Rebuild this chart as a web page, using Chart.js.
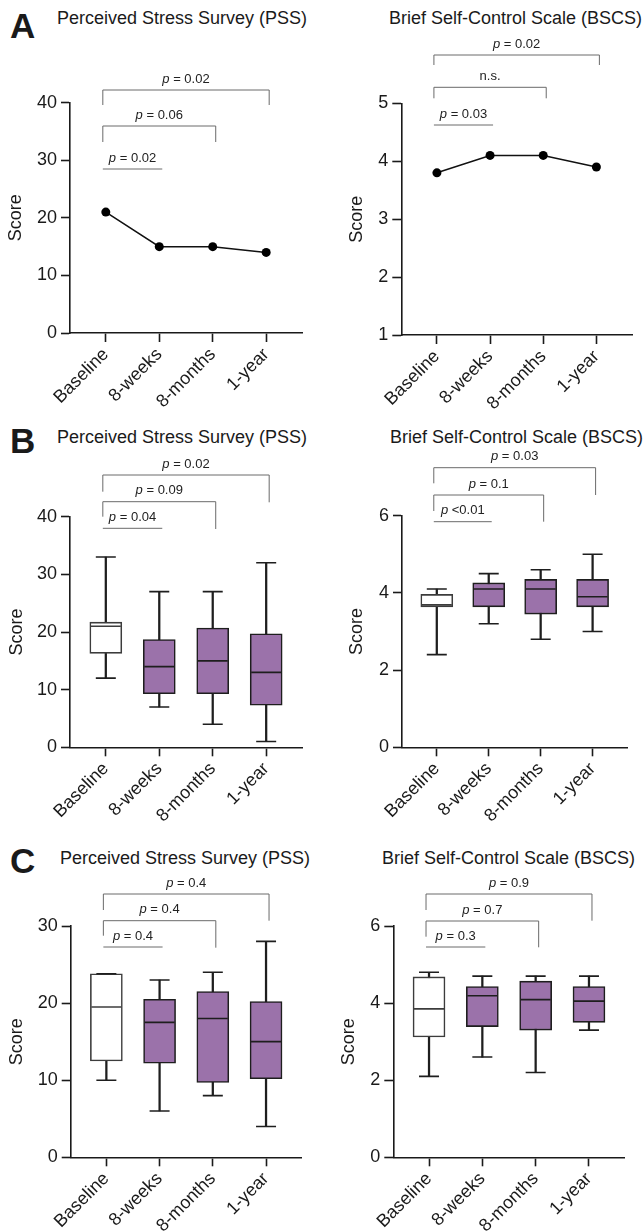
<!DOCTYPE html>
<html lang="en">
<head>
<meta charset="UTF-8" />
<title>PSS / BSCS over time</title>
<script src="https://cdn.jsdelivr.net/npm/chart.js"></script>
<style>
  body { margin: 0; background: #fff; font-family: 'Liberation Sans', Arial, sans-serif; color: #1a1a1a; }
  .fig { position: relative; width: 644px; height: 1232px; overflow: hidden; }
  .fig canvas { position: absolute; }
  .letter { position: absolute; font-size: 35px; font-weight: bold; line-height: 35px; }
  .title { position: absolute; font-size: 18px; line-height: 18px; white-space: nowrap; }
</style>
</head>
<body>
<div class="fig">
  <div class="letter" style="left:10px;top:8px">A</div>
  <div class="title" style="left:57px;top:9px">Perceived Stress Survey (PSS)</div>
  <div class="title" style="left:389px;top:9px">Brief Self-Control Scale (BSCS)</div>
  <div class="letter" style="left:10px;top:423px">B</div>
  <div class="title" style="left:57px;top:428px">Perceived Stress Survey (PSS)</div>
  <div class="title" style="left:390px;top:428px">Brief Self-Control Scale (BSCS)</div>
  <div class="letter" style="left:10px;top:843px">C</div>
  <div class="title" style="left:60px;top:849px">Perceived Stress Survey (PSS)</div>
  <div class="title" style="left:382px;top:849px">Brief Self-Control Scale (BSCS)</div>

  <canvas id="aPss" width="322" height="400" style="left:0;top:30px"></canvas>
  <canvas id="aBscs" width="322" height="400" style="left:322px;top:30px"></canvas>
  <canvas id="bPss" width="322" height="390" style="left:0;top:440px"></canvas>
  <canvas id="bBscs" width="322" height="390" style="left:322px;top:440px"></canvas>
  <canvas id="cPss" width="322" height="372" style="left:0;top:860px"></canvas>
  <canvas id="cBscs" width="322" height="372" style="left:322px;top:860px"></canvas>
</div>

<script>
  // ---- data ----
  const timepoints = ['Baseline', '8-weeks', '8-months', '1-year'];
  const comparisons = [[0, 1], [0, 2], [0, 3]];

  // A: group scores per timepoint
  const aPssScores = [21, 15, 15, 14];
  const aBscsScores = [3.8, 4.1, 4.1, 3.9];
  const aPssP = ['p = 0.02', 'p = 0.06', 'p = 0.02'];
  const aBscsP = ['p = 0.03', 'n.s.', 'p = 0.02'];

  // B and C: [min, q1, median, q3, max] per timepoint
  const bPssStats = [[12, 16.3, 21, 21.7, 33], [7, 9.3, 14, 18.7, 27], [4, 9.3, 15, 20.7, 27], [1, 7.3, 13, 19.7, 32]];
  const bBscsStats = [[2.4, 3.64, 3.69, 3.96, 4.1], [3.2, 3.64, 4.1, 4.26, 4.5], [2.8, 3.45, 4.1, 4.35, 4.6], [3.0, 3.64, 3.9, 4.35, 5.0]];
  const bPssP = ['p = 0.04', 'p = 0.09', 'p = 0.02'];
  const bBscsP = ['p <0.01', 'p = 0.1', 'p = 0.03'];

  const cPssStats = [[10, 12.5, 19.5, 23.8, 23.8], [6, 12.2, 17.5, 20.5, 23], [8, 9.7, 18, 21.5, 24], [4, 10.2, 15, 20.2, 28]];
  const cBscsStats = [[2.1, 3.12, 3.85, 4.68, 4.8], [2.6, 3.39, 4.19, 4.43, 4.7], [2.2, 3.3, 4.09, 4.57, 4.7], [3.3, 3.5, 4.05, 4.43, 4.7]];
  const cPssP = ['p = 0.4', 'p = 0.4', 'p = 0.4'];
  const cBscsP = ['p = 0.3', 'p = 0.7', 'p = 0.9'];

  // ---- style ----
  const FONT = "'Liberation Sans', Arial, sans-serif";
  const INK = '#1a1a1a';
  const PURPLE = '#9b72aa';
  Chart.defaults.font.family = FONT;
  Chart.defaults.color = INK;

  function drawPLabel(ctx, text, cx, cy) {
    ctx.textBaseline = 'middle';
    ctx.textAlign = 'left';
    ctx.fillStyle = '#222';
    const italic = text.startsWith('p');
    const head = italic ? 'p' : '';
    const rest = italic ? text.slice(1) : text;
    ctx.font = 'italic 13px ' + FONT;
    const w1 = ctx.measureText(head).width;
    ctx.font = '13px ' + FONT;
    const w2 = ctx.measureText(rest).width;
    let x = cx - (w1 + w2) / 2;
    if (head) {
      ctx.font = 'italic 13px ' + FONT;
      ctx.fillText(head, x, cy);
      x += w1;
    }
    ctx.font = '13px ' + FONT;
    ctx.fillText(rest, x, cy);
  }

  // brackets sit above the plot; offsets are px from chartArea.top
  function bracketPlugin(labels, layout) {
    return {
      id: 'brackets',
      afterDraw(chart) {
        const { ctx, chartArea, scales: { x } } = chart;
        ctx.save();
        comparisons.forEach(([a, b], k) => {
          const lay = layout[k];
          const x1 = x.getPixelForValue(a) - 3;
          const x2 = x.getPixelForValue(b) + 3;
          const y = chartArea.top + lay.y;
          ctx.strokeStyle = '#6a6a6a';
          ctx.lineWidth = 1;
          ctx.beginPath();
          ctx.moveTo(x1, y + lay.l);
          ctx.lineTo(x1, y);
          ctx.lineTo(x2, y);
          ctx.lineTo(x2, y + lay.r);
          ctx.stroke();
          drawPLabel(ctx, labels[k], (x1 + x2) / 2, y - 11);
        });
        ctx.restore();
      }
    };
  }

  function scales(p, yMin, yMax, yStep) {
    return {
      x: {
        type: 'linear', min: -0.67, max: 3.67, offset: false,
        afterFit: s => { s.height = p.xh; },
        border: { display: true, color: INK, width: 1.6 },
        grid: { display: true, offset: false, drawOnChartArea: false, tickLength: 9, tickWidth: 1.6, tickColor: INK },
        ticks: {
          stepSize: 1, includeBounds: false, autoSkip: false,
          minRotation: 45, maxRotation: 45, padding: 2,
          font: { size: 18 }, color: INK,
          callback: v => timepoints[v] ?? ''
        }
      },
      y: {
        min: yMin, max: yMax,
        afterFit: s => { s.width = p.yw; },
        border: { display: true, color: INK, width: 1.6 },
        grid: { display: true, drawOnChartArea: false, tickLength: 9, tickWidth: 1.6, tickColor: INK },
        ticks: { stepSize: yStep, padding: 4, font: { size: 18 }, color: INK },
        title: { display: true, text: 'Score', font: { size: 18 }, color: INK, padding: { top: p.tp } }
      }
    };
  }

  function baseOptions(p, yMin, yMax, yStep) {
    return {
      responsive: false,
      devicePixelRatio: 1,
      animation: false,
      events: [],
      layout: { padding: { top: p.pt, right: p.pr, left: 0, bottom: 0 } },
      plugins: { legend: { display: false }, tooltip: { enabled: false } },
      scales: scales(p, yMin, yMax, yStep)
    };
  }

  function lineChart(id, values, pLabels, p, br, yMin, yMax, yStep) {
    new Chart(document.getElementById(id), {
      type: 'line',
      data: {
        datasets: [{
          data: values.map((v, i) => ({ x: i, y: v })),
          borderColor: '#111', borderWidth: 1.5,
          pointRadius: 4.5, pointBackgroundColor: '#000', pointBorderWidth: 0
        }]
      },
      options: baseOptions(p, yMin, yMax, yStep),
      plugins: [bracketPlugin(pLabels, br)]
    });
  }

  function boxChart(id, stats, pLabels, p, br, yMin, yMax, yStep) {
    const fills = stats.map((s, i) => i === 0 ? '#ffffff' : PURPLE);
    const edges = stats.map((s, i) => i === 0 ? '#3c3c3c' : '#1e1e1e');
    new Chart(document.getElementById(id), {
      type: 'bar',
      data: {
        datasets: [
          { // medians
            type: 'line', showLine: false, order: 0,
            data: stats.map((s, i) => ({ x: i, y: s[2] })),
            pointStyle: 'line', pointRadius: 15, pointBorderWidth: 1.6, pointBorderColor: edges
          },
          { // whisker caps
            type: 'line', showLine: false, order: 1,
            data: stats.flatMap((s, i) => [{ x: i, y: s[0] }, { x: i, y: s[4] }]),
            pointStyle: 'line', pointRadius: 10, pointBorderWidth: 1.6, pointBorderColor: '#1e1e1e'
          },
          { // boxes q1..q3
            order: 2, grouped: false, barThickness: 32,
            data: stats.map((s, i) => ({ x: i, y: [s[1], s[3]] })),
            backgroundColor: fills, borderColor: edges, borderWidth: 1.6, borderSkipped: false
          },
          { // whiskers min..max
            order: 3, grouped: false, barThickness: 1.6,
            data: stats.map((s, i) => ({ x: i, y: [s[0], s[4]] })),
            backgroundColor: '#1e1e1e', borderWidth: 0
          }
        ]
      },
      options: baseOptions(p, yMin, yMax, yStep),
      plugins: [bracketPlugin(pLabels, br)]
    });
  }

  // layout: yw = y-axis box width, xh = x-axis box height, pt/pr = padding, tp = title padding
  lineChart('aPss', aPssScores, aPssP,
    { yw: 70, xh: 97, pt: 72.7, pr: 20, tp: 5.2 },
    [{ y: 66.3, l: 0, r: 0 }, { y: 23.3, l: 16, r: 16 }, { y: -12.7, l: 15, r: 15 }],
    0, 40, 10);
  lineChart('aBscs', aBscsScores, aBscsP,
    { yw: 79.3, xh: 95, pt: 73.3, pr: 12, tp: 24.2 },
    [{ y: 21.7, l: 0, r: 0 }, { y: -16, l: 11, r: 11 }, { y: -48.3, l: 10, r: 10 }],
    1, 5, 1);
  boxChart('bPss', bPssStats, bPssP,
    { yw: 70, xh: 82.7, pt: 76.7, pr: 20, tp: 5.9 },
    [{ y: 11.6, l: 0, r: 0 }, { y: -15, l: 15, r: 27.3 }, { y: -41.7, l: 16.7, r: 27.3 }],
    0, 40, 10);
  boxChart('bBscs', bBscsStats, bBscsP,
    { yw: 80, xh: 82.7, pt: 75.7, pr: 11, tp: 24.2 },
    [{ y: 6, l: 0, r: 0 }, { y: -20.7, l: 16, r: 26.7 }, { y: -48, l: 15.6, r: 27.3 }],
    0, 6, 2);
  boxChart('cPss', cPssStats, cPssP,
    { yw: 70.7, xh: 74.7, pt: 66, pr: 20.3, tp: 5.9 },
    [{ y: 21, l: 0, r: 0 }, { y: -5.3, l: 15, r: 27 }, { y: -32, l: 16, r: 26.7 }],
    0, 30, 10);
  boxChart('cBscs', cBscsStats, cBscsP,
    { yw: 71.3, xh: 74.7, pt: 66, pr: 19.3, tp: 15.9 },
    [{ y: 21, l: 0, r: 0 }, { y: -5, l: 15.7, r: 26.3 }, { y: -32, l: 16, r: 26.7 }],
    0, 6, 2);
</script>
</body>
</html>
